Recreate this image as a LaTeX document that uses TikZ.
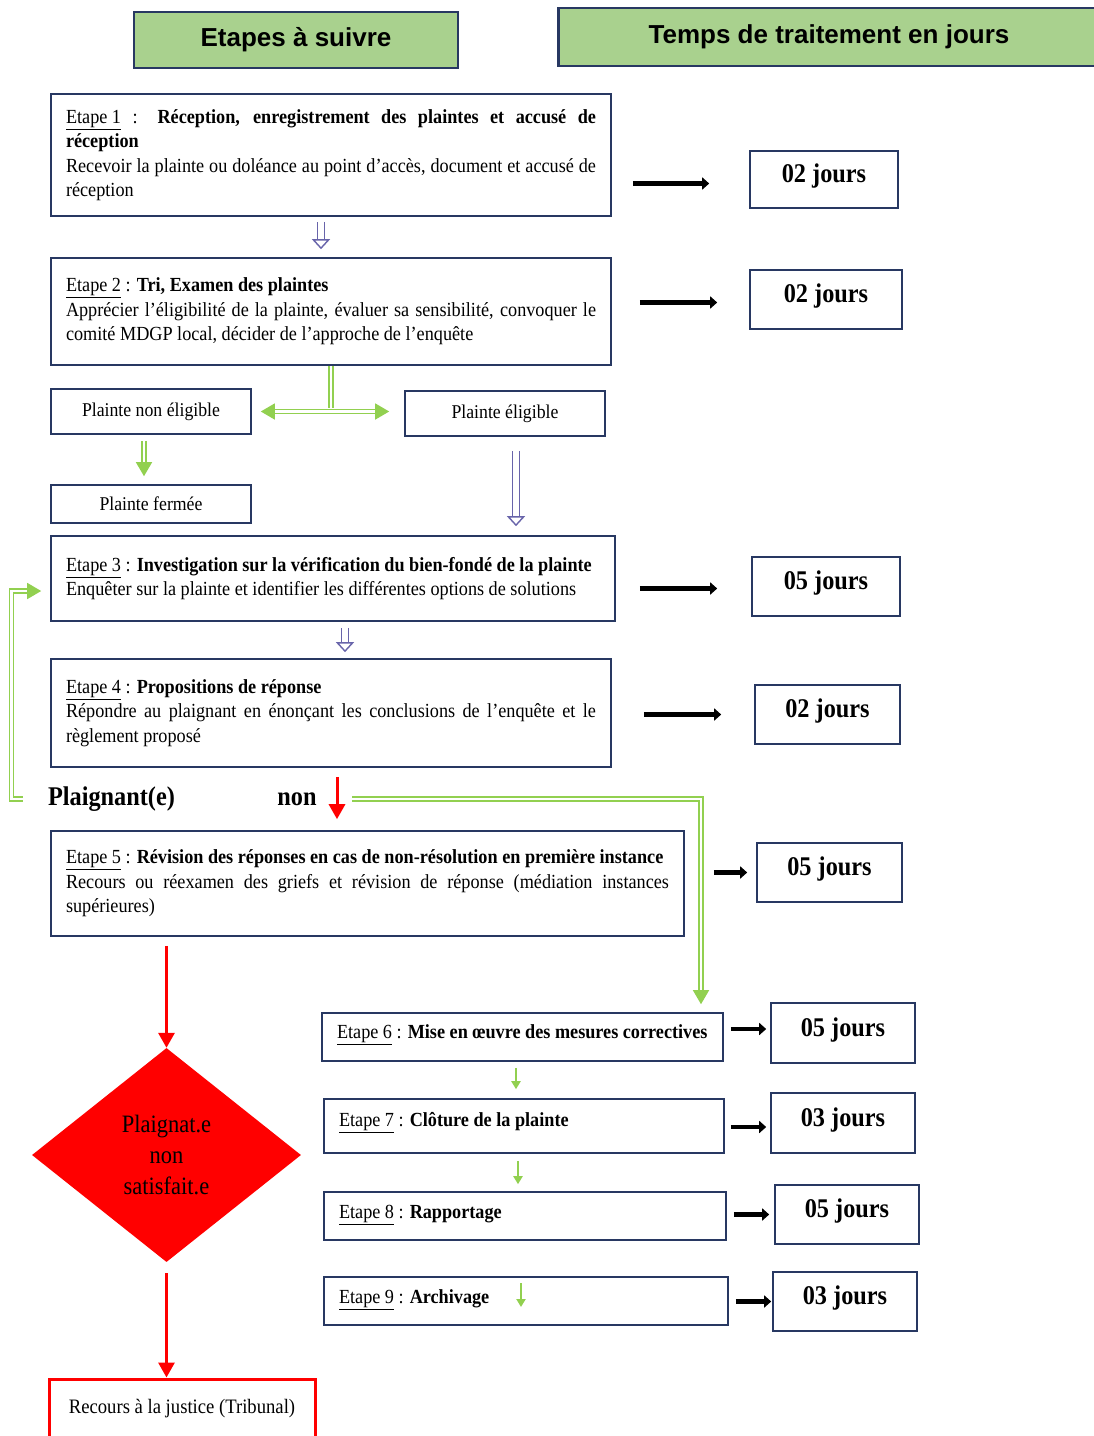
\documentclass[tikz,border=0pt]{standalone}
\usepackage{fontspec}
\setmainfont[FakeStretch=0.91]{Liberation Serif}
\setsansfont{Liberation Sans}
\newfontfamily\daysfont[FakeStretch=0.9]{Liberation Serif}
\usetikzlibrary{shapes.geometric,arrows.meta,positioning,calc}
\definecolor{boxblue}{RGB}{40,56,98}
\definecolor{headgreen}{RGB}{169,209,142}
\definecolor{linegreen}{RGB}{146,208,80}
\definecolor{hollowblue}{RGB}{104,100,170}
\newcommand\stepfont{\fontsize{20}{24.5}\selectfont\hyphenpenalty=10000\exhyphenpenalty=10000}
\tikzset{
    head/.style={rectangle, draw=boxblue, fill=headgreen, line width=2.5pt, font=\sffamily\bfseries\fontsize{26}{30}\selectfont},
    stepbox/.style={rectangle, draw=boxblue, line width=1.6pt, align=justify, inner xsep=15pt, inner ysep=0pt, font=\stepfont},
    shortstep/.style={stepbox, align=flush left, minimum height=48pt},
    smallbox/.style={rectangle, draw=boxblue, line width=1.6pt, minimum width=200pt, inner sep=0pt, font=\fontsize{19.5}{24}\selectfont},
    daybox/.style={rectangle, draw=boxblue, line width=1.6pt, inner sep=0pt, text height=18pt, text depth=12pt, font=\daysfont\bfseries\fontsize{27}{30}\selectfont},
    timearrow/.style={draw, line width=4.5pt, -{Triangle[length=7pt,width=12pt]}},
    hollow/.style={draw=hollowblue, double=white, line width=1.4pt, double distance=5.5pt, -{Triangle[length=10pt,width=18pt,fill=white]}},
    greenline/.style={draw=linegreen, double=white, line width=1.4pt, double distance=2.5pt, -{Triangle[length=14pt,width=16pt]}},
    thingreen/.style={draw=linegreen, line width=2pt, -{Triangle[length=8pt,width=9pt]}},
    redline/.style={draw=red, line width=3pt, -{Triangle[length=15pt,width=16pt]}}
}

\begin{document}
\begin{tikzpicture}[x=1pt, y=-1pt]
    \useasboundingbox (0,0) rectangle (1094,1436);

    % headers
    \node [head, minimum width=324pt, minimum height=56pt] (headsteps) at (296,40) {Etapes à suivre};
    \node [head, minimum width=541pt, minimum height=58pt] (headtimes) at (829,37) {Temps de traitement en jours};

    % steps
    \node [stepbox, text width=530pt, minimum height=122pt] (step1) at (331,155) {\underline{Etape 1} : \textbf{Réception, enregistrement des plaintes et accusé de\linebreak réception}\\Recevoir la plainte ou doléance au point d’accès, document et accusé de\linebreak réception};
    \node [stepbox, text width=530pt, minimum height=107pt] (step2) at (331,311.5) {\underline{Etape 2} : \textbf{Tri, Examen des plaintes}\\Apprécier l’éligibilité de la plainte, évaluer sa sensibilité, convoquer le\linebreak comité MDGP local, décider de l’approche de l’enquête};
    \node [smallbox, minimum height=45pt] (noneligible) at (151,411.5) {Plainte non éligible};
    \node [smallbox, minimum height=45pt] (eligible) at (505,413.5) {Plainte éligible};
    \node [smallbox, minimum height=38pt] (fermee) at (151,504) {Plainte fermée};
    \node [stepbox, text width=534pt, minimum height=85pt] (step3) at (333,578.5) {\underline{Etape 3} : \textbf{Investigation sur la vérification du bien-fondé de la plainte}\\Enquêter sur la plainte et identifier les différentes options de solutions};
    \node [stepbox, text width=530pt, minimum height=108pt] (step4) at (331,713) {\underline{Etape 4} : \textbf{Propositions de réponse}\\Répondre au plaignant en énonçant les conclusions de l’enquête et le\linebreak règlement proposé};
    \node [font=\daysfont\bfseries\fontsize{27}{30}\selectfont] (plaig) at (111.5,799) {Plaignant(e)};
    \node [font=\daysfont\bfseries\fontsize{27}{30}\selectfont] (nonlabel) at (297,799) {non};
    \node [stepbox, text width=603pt, minimum height=105pt] (step5) at (367.5,883.5) {\underline{Etape 5} : \textbf{Révision des réponses en cas de non-résolution en première instance}\\Recours ou réexamen des griefs et révision de réponse (médiation instances\linebreak supérieures)};
    \node [shortstep, text width=371pt, text depth=10pt] (step6) at (522.5,1037) {\underline{Etape 6} : \textbf{Mise en œuvre des mesures correctives}};
    \node [shortstep, text width=370pt, minimum height=54pt, text depth=14pt] (step7) at (524,1126) {\underline{Etape 7} : \textbf{Clôture de la plainte}};
    \node [shortstep, text width=372pt, text depth=9pt] (step8) at (525,1216) {\underline{Etape 8} : \textbf{Rapportage}};
    \node [shortstep, text width=374pt, text depth=9pt] (step9) at (526,1301) {\underline{Etape 9} : \textbf{Archivage}};
    \node [diamond, fill=red, minimum width=269pt, minimum height=214pt, inner sep=0pt, align=center, font=\daysfont\fontsize{25}{31}\selectfont] (diamond) at (166.5,1155) {Plaignat.e\\non\\satisfait.e};
    \node [rectangle, draw=red, line width=3pt, minimum width=266pt, minimum height=70pt, inner sep=0pt, text height=14pt, text depth=16pt, font=\fontsize{20.5}{24}\selectfont] (recours) at (182,1414) {Recours à la justice (Tribunal)};

    % durations
    \node [daybox, minimum width=148pt, minimum height=57pt] (time1) at (824,179.5) {02 jours};
    \node [daybox, minimum width=152pt, minimum height=59pt] (time2) at (826,299.5) {02 jours};
    \node [daybox, minimum width=148pt, minimum height=59pt] (time3) at (826,586.5) {05 jours};
    \node [daybox, minimum width=145pt, minimum height=59pt] (time4) at (827.5,714.5) {02 jours};
    \node [daybox, minimum width=145pt, minimum height=59pt] (time5) at (829.5,872.5) {05 jours};
    \node [daybox, minimum width=144pt, minimum height=60pt] (time6) at (843,1033) {05 jours};
    \node [daybox, minimum width=144pt, minimum height=60pt] (time7) at (843,1123) {03 jours};
    \node [daybox, minimum width=144pt, minimum height=59pt] (time8) at (847,1214.5) {05 jours};
    \node [daybox, minimum width=144pt, minimum height=59pt] (time9) at (845,1301.5) {03 jours};

    \coordinate (split) at (352,799);
    \coordinate (archtop) at (521,1283);
    \coordinate (archbot) at (521,1307);

    % step -> duration
    \path [timearrow, shorten <=21pt, shorten >=40pt] ([yshift=-4pt]step1.east |- time1.west) -- ([yshift=-4pt]time1.west);
    \path [timearrow, shorten <=28pt, shorten >=32pt] ([yshift=-3pt]step2.east |- time2.west) -- ([yshift=-3pt]time2.west);
    \path [timearrow, shorten <=24pt, shorten >=34pt] ([yshift=-2pt]step3.east |- time3.west) -- ([yshift=-2pt]time3.west);
    \path [timearrow, shorten <=32pt, shorten >=33pt] (step4.east |- time4.west) -- (time4.west);
    \path [timearrow, shorten <=29pt, shorten >=9pt] (step5.east |- time5.west) -- (time5.west);
    \path [timearrow, shorten <=7pt, shorten >=4pt] ([yshift=4pt]step6.east |- time6.west) -- ([yshift=4pt]time6.west);
    \path [timearrow, shorten <=6pt, shorten >=4pt] ([yshift=-4pt]step7.east |- time7.west) -- ([yshift=-4pt]time7.west);
    \path [timearrow, shorten <=7pt, shorten >=5pt] (step8.east |- time8.west) -- (time8.west);
    \path [timearrow, shorten <=7pt, shorten >=1pt] (step9.east |- time9.west) -- (time9.west);

    % flow
    \path [hollow, shorten <=5pt, shorten >=8pt] ([xshift=-10pt]step1.south) -- ([xshift=-10pt]step2.north);
    \path [greenline, -, shorten >=4pt] (step2.south) -- (step2.south |- noneligible.east);
    \path [greenline, {Triangle[length=14pt,width=16pt]}-{Triangle[length=14pt,width=16pt]}, shorten <=9pt, shorten >=15pt] (noneligible.east) -- (noneligible.east -| eligible.west);
    \path [greenline, shorten <=6pt, shorten >=8pt] ([xshift=-7pt]noneligible.south) -- ([xshift=-7pt]fermee.north);
    \path [hollow, shorten <=14pt, shorten >=9pt] ([xshift=11pt]eligible.south) -- ([xshift=11pt]eligible.south |- step3.north);
    \path [hollow, shorten <=6pt, shorten >=6pt] ([xshift=12pt]step3.south) -- ([xshift=12pt]step3.south |- step4.north);
    \path [redline, shorten <=9pt, shorten >=11pt] ([xshift=6pt]step4.south) -- ([xshift=6pt]step4.south |- step5.north);
    \path [greenline, shorten >=9pt] ([xshift=-22pt]plaig.west) -- ++(-11,0) |- ([yshift=-12.5pt]step3.west);
    \path [greenline, shorten >=8pt] (split) -| ([xshift=178.5pt]step6.north);
    \path [redline, shorten <=9pt] (step5.south -| diamond.north) -- (diamond.north);
    \path [redline, shorten <=11pt] (diamond.south) -- (diamond.south |- recours.north);
    \path [thingreen, shorten <=6pt, shorten >=9pt] ([xshift=-6.5pt]step6.south) -- ([xshift=-6.5pt]step6.south |- step7.north);
    \path [thingreen, shorten <=7pt, shorten >=7pt] ([xshift=-6pt]step7.south) -- ([xshift=-6pt]step7.south |- step8.north);
    \path [thingreen] (archtop) -- (archbot);
\end{tikzpicture}
\end{document}
